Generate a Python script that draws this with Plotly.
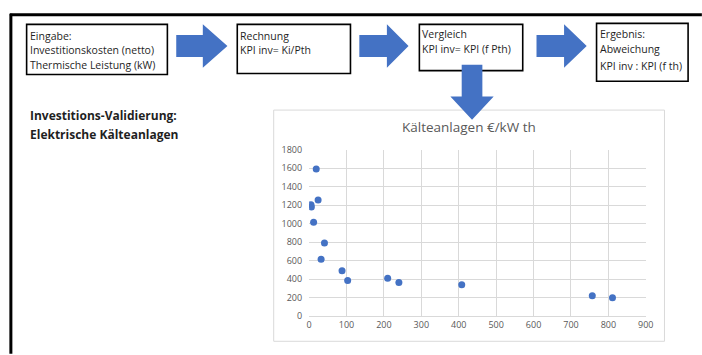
import plotly.graph_objects as go

W, H = 702, 355

# Scatter data: thermal capacity (kW) vs. specific investment (€/kW th)
leistung_kw = [19, 24, 5, 6, 12, 41, 32, 88, 103, 210, 240, 408, 757, 811]
kosten_eur_kw = [1590, 1255, 1205, 1180, 1015, 790, 615, 490, 385, 410, 365, 340, 220, 200]

x_ticks = [0, 100, 200, 300, 400, 500, 600, 700, 800, 900]
y_ticks = [0, 200, 400, 600, 800, 1000, 1200, 1400, 1600, 1800]

# Process boxes: (left, top, right, bottom) in page pixels, with text lines
boxes = [
    ((24, 18, 167, 70), ["Eingabe:", "Investitionskosten (netto)", "Thermische Leistung (kW)"], [30, 45, 60]),
    ((238, 18, 353, 69), ["Rechnung", "KPI inv= Ki/Pth"], [30, 45]),
    ((423, 18, 528, 66), ["Vergleich", "KPI inv= KPI (f Pth)"], [28, 44]),
    ((603, 17, 696, 77), ["Ergebnis:", "Abweichung", "KPI inv : KPI (f th)"], [28, 44, 61]),
]

BLUE = "#4472C4"
TXT = "#1f1f1f"
FONT = "Open Sans"


def px(x):
    return x / W


def py(y):
    return 1 - y / H


def path(points):
    s = "M " + " L ".join(f"{px(x):.5f},{py(y):.5f}" for x, y in points) + " Z"
    return s


def right_arrow(x0, x1, xh, yc, body_h, head_h):
    return path([
        (x0, yc - body_h / 2), (xh, yc - body_h / 2), (xh, yc - head_h / 2),
        (x1, yc), (xh, yc + head_h / 2), (xh, yc + body_h / 2), (x0, yc + body_h / 2),
    ])


def down_arrow(xc, y0, y1, yh, body_w, head_w):
    return path([
        (xc - body_w / 2, y0), (xc + body_w / 2, y0), (xc + body_w / 2, yh),
        (xc + head_w / 2, yh), (xc, y1), (xc - head_w / 2, yh), (xc - body_w / 2, yh),
    ])


shapes = []
annotations = []

# outer frame
shapes.append(dict(type="line", xref="paper", yref="paper", x0=px(7), x1=px(710), y0=py(8), y1=py(8),
                   line=dict(color="black", width=3)))
shapes.append(dict(type="line", xref="paper", yref="paper", x0=px(8), x1=px(8), y0=py(7), y1=py(360),
                   line=dict(color="black", width=3)))

# chart area border
shapes.append(dict(type="rect", xref="paper", yref="paper", x0=px(275), x1=px(672), y0=py(107), y1=py(347),
                   line=dict(color="#d9d9d9", width=1), fillcolor="rgba(0,0,0,0)", layer="below"))

for (l, t, r, b), lines, ys in boxes:
    shapes.append(dict(type="rect", xref="paper", yref="paper", x0=px(l), x1=px(r), y0=py(t), y1=py(b),
                       line=dict(color="black", width=1.6), fillcolor="white"))
    for txt, yy in zip(lines, ys):
        annotations.append(dict(text=txt, xref="paper", yref="paper", x=px(l + 1), y=py(yy),
                                xanchor="left", yanchor="middle", showarrow=False,
                                font=dict(family=FONT, size=10.5, color=TXT)))

# flow arrows
for x0, x1, xh in [(176, 228, 203), (362, 412, 390), (542, 593, 570)]:
    shapes.append(dict(type="path", xref="paper", yref="paper", path=right_arrow(x0, x1, xh, 40.5, 23, 45),
                       fillcolor=BLUE, line=dict(width=0)))
shapes.append(dict(type="path", xref="paper", yref="paper", path=down_arrow(476.5, 60, 117, 93, 21, 44),
                   fillcolor=BLUE, line=dict(width=0)))

# side heading
for txt, yy in [("Investitions-Validierung:", 113), ("Elektrische Kälteanlagen", 132)]:
    annotations.append(dict(text=f"<b>{txt}</b>", xref="paper", yref="paper", x=px(25), y=py(yy),
                            xanchor="left", yanchor="middle", showarrow=False,
                            font=dict(family=FONT, size=12, color=TXT)))

# chart title
annotations.append(dict(text="Kälteanlagen €/kW th", xref="paper", yref="paper", x=px(473), y=py(125),
                        xanchor="center", yanchor="middle", showarrow=False,
                        font=dict(family=FONT, size=13.5, color="#595959")))

fig = go.Figure(go.Scatter(
    x=leistung_kw, y=kosten_eur_kw, mode="markers",
    marker=dict(color=BLUE, size=7), hoverinfo="x+y",
))

fig.update_layout(
    width=W, height=H, margin=dict(l=0, r=0, t=0, b=0),
    paper_bgcolor="white", plot_bgcolor="white", showlegend=False,
    shapes=shapes, annotations=annotations,
    xaxis=dict(domain=[px(311), px(653)], range=[0, 900], tickvals=x_ticks, showgrid=True,
               gridcolor="#d9d9d9", gridwidth=1, zeroline=False, showline=True, linecolor="#d9d9d9",
               tickfont=dict(family=FONT, size=9, color="#595959"), ticks="", fixedrange=True),
    yaxis=dict(domain=[py(321), py(148)], range=[0, 1800], tickvals=y_ticks, showgrid=True,
               gridcolor="#d9d9d9", gridwidth=1, zeroline=False, showline=False,
               tickfont=dict(family=FONT, size=9, color="#595959"), ticks="", fixedrange=True,
               ticklabelstandoff=6),
)

fig.write_html("out.html")
